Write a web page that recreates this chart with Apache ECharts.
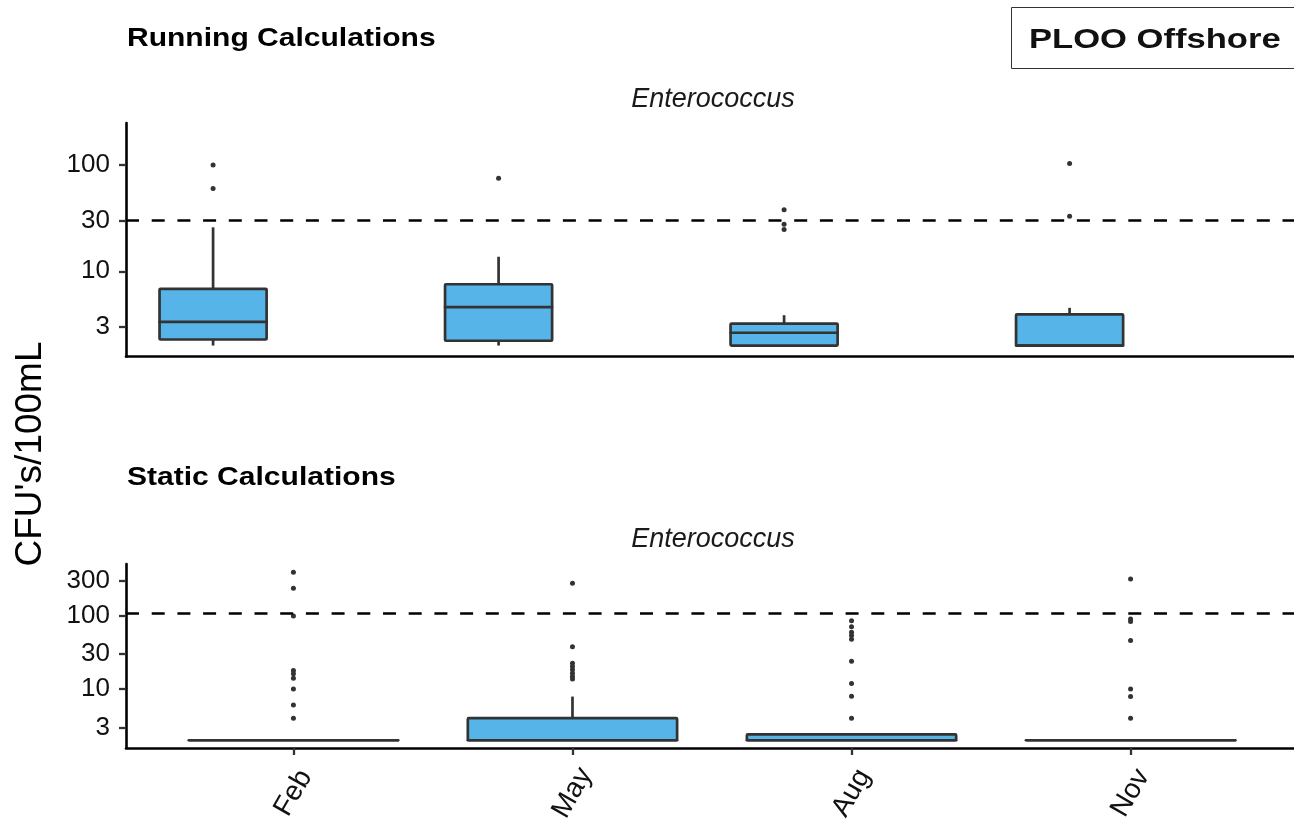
<!DOCTYPE html>
<html>
<head>
<meta charset="utf-8">
<script src="https://cdn.jsdelivr.net/npm/echarts@6/dist/echarts.min.js"></script>
<style>
html,body{margin:0;padding:0;background:#ffffff;}
#c{width:1294px;height:823px;}
</style>
</head>
<body>
<div id="c"></div>
<script>
// ---------- data ----------
const categories = ['Feb', 'May', 'Aug', 'Nov'];

// Running calculations (CFU/100mL)
const runMin = [2.0, 2.0, 2.0, 2.0];
const runQ1  = [2.28, 2.22, 2.0, 2.0];
const runMed = [3.34, 4.6, 2.64, 2.0];
const runQ3  = [6.83, 7.55, 3.22, 3.93];
const runMax = [25.9, 13.7, 3.86, 4.53];
const runOutliers = [
  [100, 60],
  [75],
  [38, 27.7, 24.7],
  [103, 33]
];

// Static calculations (CFU/100mL)
const statMin = [2.0, 2.0, 2.0, 2.0];
const statQ1  = [2.0, 2.0, 2.0, 2.0];
const statMed = [2.0, 2.0, 2.0, 2.0];
const statQ3  = [2.0, 4.0, 2.4, 2.0];
const statMax = [2.0, 7.9, 2.4, 2.0];
const statOutliers = [
  [394, 239, 100, 17.9, 16.2, 14.1, 10, 6.05, 4.0],
  [279, 37.8, 22.6, 20.3, 18.3, 16.5, 14.9, 13.7],
  [86, 71, 60, 54, 48, 24, 11.9, 8.0, 4.0],
  [320, 91, 84, 46, 10, 7.9, 4.0]
];

// thresholds
const runThreshold = 30;
const statThreshold = 110;

// tick labels
const runTicks = [3, 10, 30, 100];
const statTicks = [3, 10, 30, 100, 300];

// ---------- helpers ----------
const lg = v => Math.log10(v);
function boxData(mn, q1, md, q3, mx) {
  return categories.map((c, i) => [i, lg(mn[i]), lg(q1[i]), lg(md[i]), lg(q3[i]), lg(mx[i])]);
}
function outlierData(list) {
  const out = [];
  list.forEach((arr, i) => arr.forEach(v => out.push([i, lg(v)])));
  return out;
}
const EDGE = '#333333';
const FILL = '#56B4E9';
const LW = 2.7;
function boxRender(w) {
  return function (params, api) {
    const x = api.value(0);
    const lo = api.coord([x, api.value(1)]);
    const q1 = api.coord([x, api.value(2)]);
    const md = api.coord([x, api.value(3)]);
    const q3 = api.coord([x, api.value(4)]);
    const hi = api.coord([x, api.value(5)]);
    const left = api.coord([x - w / 2, api.value(3)])[0];
    const right = api.coord([x + w / 2, api.value(3)])[0];
    const ls = { stroke: EDGE, lineWidth: LW, fill: null };
    return {
      type: 'group',
      children: [
        { type: 'line', shape: { x1: lo[0], y1: lo[1], x2: q1[0], y2: q1[1] }, style: ls },
        { type: 'line', shape: { x1: q3[0], y1: q3[1], x2: hi[0], y2: hi[1] }, style: ls },
        { type: 'rect', shape: { x: left, y: q3[1], width: right - left, height: q1[1] - q3[1], r: 1 },
          style: { fill: FILL, stroke: EDGE, lineWidth: LW, lineJoin: 'round' } },
        { type: 'line', shape: { x1: left, y1: md[1], x2: right, y2: md[1] }, style: { stroke: EDGE, lineWidth: LW, lineCap: 'round' } }
      ]
    };
  };
}
function yAxisCfg(gridIndex, min, max, ticks) {
  const vals = ticks.map(lg);
  return {
    type: 'value', gridIndex, min, max,
    splitLine: { show: false },
    axisLine: { show: true, onZero: false, lineStyle: { color: '#000', width: 2.6 } },
    axisTick: { show: true, length: 7, customValues: vals, lineStyle: { color: '#333', width: 2.3 } },
    axisLabel: {
      show: true, customValues: vals, margin: 16,
      fontFamily: 'Liberation Sans', fontSize: 26, color: '#111',
      formatter: v => String(Math.round(Math.pow(10, v)))
    }
  };
}
const dashLine = (val) => ({
  silent: true, symbol: ['none', 'none'],
  label: { show: false },
  lineStyle: { color: '#000', width: 2.7, type: [13, 12.7], opacity: 1 },
  emphasis: { disabled: true },
  data: [{ yAxis: lg(val) }],
  animation: false
});

// ---------- chart ----------
const chart = echarts.init(document.getElementById('c'), null, { renderer: 'canvas' });
const option = {
  animation: false,
  backgroundColor: '#ffffff',
  grid: [
    { left: 126, top: 123, width: 1168, height: 233.5, containLabel: false, outerBoundsMode: 'none' },
    { left: 126, top: 564, width: 1172, height: 184, containLabel: false, outerBoundsMode: 'none' }
  ],
  xAxis: [
    {
      type: 'value', gridIndex: 0, min: -0.305, max: 3.786,
      splitLine: { show: false },
      axisLine: { show: true, onZero: false, lineStyle: { color: '#000', width: 2.6 } },
      axisTick: { show: false }, axisLabel: { show: false }
    },
    {
      type: 'value', gridIndex: 1, min: -0.6, max: 3.6,
      splitLine: { show: false },
      axisLine: { show: true, onZero: false, lineStyle: { color: '#000', width: 2.6 } },
      axisTick: { show: true, length: 7, customValues: [0, 1, 2, 3], lineStyle: { color: '#333', width: 2.3 } },
      axisLabel: {
        show: true, customValues: [0, 1, 2, 3],
        rotate: 60, align: 'center', verticalAlign: 'middle', margin: 45,
        fontFamily: 'Liberation Sans', fontSize: 28, color: '#111',
        formatter: v => categories[Math.round(v)]
      }
    }
  ],
  yAxis: [
    yAxisCfg(0, 0.198, 2.395, runTicks),
    yAxisCfg(1, 0.195, 2.709, statTicks)
  ],
  series: [
    {
      type: 'custom', name: 'run-box', xAxisIndex: 0, yAxisIndex: 0,
      data: boxData(runMin, runQ1, runMed, runQ3, runMax),
      encode: { x: 0, y: [1, 2, 3, 4, 5] },
      renderItem: boxRender(0.375), silent: true, z: 3
    },
    {
      type: 'scatter', name: 'run-out', xAxisIndex: 0, yAxisIndex: 0,
      data: outlierData(runOutliers),
      symbolSize: 5, itemStyle: { color: EDGE, opacity: 1 }, silent: true, z: 4,
      markLine: dashLine(runThreshold)
    },
    {
      type: 'custom', name: 'stat-box', xAxisIndex: 1, yAxisIndex: 1,
      data: boxData(statMin, statQ1, statMed, statQ3, statMax),
      encode: { x: 0, y: [1, 2, 3, 4, 5] },
      renderItem: boxRender(0.75), silent: true, z: 3
    },
    {
      type: 'scatter', name: 'stat-out', xAxisIndex: 1, yAxisIndex: 1,
      data: outlierData(statOutliers),
      symbolSize: 5, itemStyle: { color: EDGE, opacity: 1 }, silent: true, z: 4,
      markLine: dashLine(statThreshold)
    }
  ],
  graphic: [
    { type: 'text', x: 127, y: 38.5, scaleX: 1.155,
      style: { text: 'Running Calculations', fontFamily: 'Liberation Sans', fontWeight: 'bold', fontSize: 26, fill: '#000', align: 'left', verticalAlign: 'middle' } },
    { type: 'text', x: 127, y: 478, scaleX: 1.155,
      style: { text: 'Static Calculations', fontFamily: 'Liberation Sans', fontWeight: 'bold', fontSize: 26, fill: '#000', align: 'left', verticalAlign: 'middle' } },
    { type: 'text', x: 713, y: 99,
      style: { text: 'Enterococcus', fontFamily: 'Liberation Sans', fontStyle: 'italic', fontSize: 27, fill: '#1a1a1a', align: 'center', verticalAlign: 'middle' } },
    { type: 'text', x: 713, y: 539,
      style: { text: 'Enterococcus', fontFamily: 'Liberation Sans', fontStyle: 'italic', fontSize: 27, fill: '#1a1a1a', align: 'center', verticalAlign: 'middle' } },
    { type: 'text', x: 31, y: 454, rotation: Math.PI / 2,
      style: { text: "CFU's/100mL", fontFamily: 'Liberation Sans', fontSize: 37, fill: '#000', align: 'center', verticalAlign: 'middle' } },
    { type: 'rect', shape: { x: 1011.5, y: 7.5, width: 300, height: 61 },
      style: { fill: '#ffffff', stroke: '#333333', lineWidth: 1 } },
    { type: 'text', x: 1029, y: 40.5, scaleX: 1.235,
      style: { text: 'PLOO Offshore', fontFamily: 'Liberation Sans', fontWeight: 'bold', fontSize: 28, fill: '#111', align: 'left', verticalAlign: 'middle' } }
  ]
};
chart.setOption(option);
</script>
</body>
</html>
